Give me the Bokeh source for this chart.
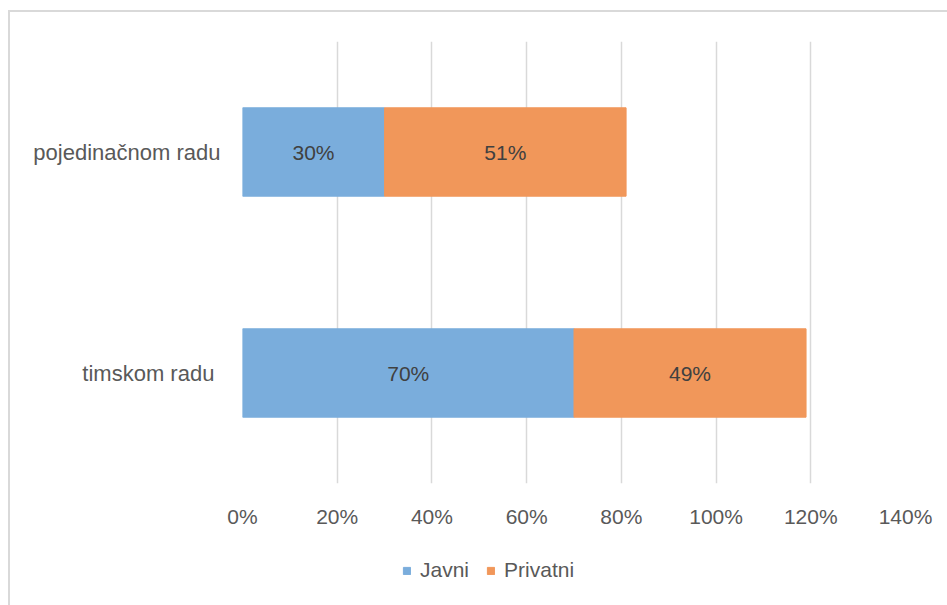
from bokeh.plotting import figure
from bokeh.models import (ColumnDataSource, FactorRange, Range1d, FixedTicker,
                          NumeralTickFormatter, Legend, LegendItem, LabelSet)
from bokeh.layouts import column
from bokeh.core.properties import value
from bokeh.embed import file_html
from bokeh.resources import INLINE

# ---- data ----
categories = ["timskom radu ", "pojedinačnom radu"]   # bottom -> top
javni = [0.70, 0.30]
privatni = [0.49, 0.51]
series_names = ["Javni", "Privatni"]
x_ticks = [0.0, 0.2, 0.4, 0.6, 0.8, 1.0, 1.2, 1.4]

BLUE = "#7AADDC"
ORANGE = "#F1975A"
FONT = "Liberation Sans"
TXT = "#595959"

src = ColumnDataSource(dict(
    cat=categories,
    javni=javni,
    privatni=privatni,
    j_end=javni,
    p_end=[a + b for a, b in zip(javni, privatni)],
    j_mid=[a / 2 for a in javni],
    p_mid=[a + b / 2 for a, b in zip(javni, privatni)],
    j_lab=[f"{round(v*100)}%" for v in javni],
    p_lab=[f"{round(v*100)}%" for v in privatni],
))

p = figure(width=937, height=528, output_backend="svg", toolbar_location=None,
           y_range=FactorRange(*categories), x_range=Range1d(0, 1.4),
           min_border_left=232, min_border_right=42, min_border_top=29,
           min_border_bottom=57)
p.outline_line_color = None

p.hbar(y="cat", left=0, right="j_end", height=0.4, color=BLUE, source=src)
p.hbar(y="cat", left="j_end", right="p_end", height=0.4, color=ORANGE, source=src)

for xcol, lcol in (("j_mid", "j_lab"), ("p_mid", "p_lab")):
    p.add_layout(LabelSet(x=xcol, y="cat", text=lcol, source=src,
                          text_align="center", text_baseline="middle",
                          text_font=value(FONT), text_font_size="21px",
                          text_color="#404040"))

p.xaxis.ticker = FixedTicker(ticks=x_ticks)
p.xaxis.formatter = NumeralTickFormatter(format="0%")
for ax in (p.xaxis[0], p.yaxis[0]):
    ax.axis_line_color = None
    ax.major_tick_line_color = None
    ax.minor_tick_line_color = None
    ax.major_label_text_font = FONT
    ax.major_label_text_color = TXT
p.xaxis.major_label_text_font_size = "21px"
p.yaxis.major_label_text_font_size = "22px"
p.xaxis.major_label_standoff = 15
p.yaxis.major_label_standoff = 16

p.xgrid.grid_line_color = "#d9d9d9"
p.xgrid.grid_line_width = 1.5
p.ygrid.grid_line_color = None

# legend strip below the chart (its frame is aligned with the chart's frame)
p2 = figure(width=937, height=65, output_backend="svg", toolbar_location=None,
            x_range=Range1d(0, 1.4), y_range=FactorRange(*categories),
            x_axis_type=None, y_axis_type=None,
            min_border=0, min_border_left=0, min_border_right=0,
            min_border_top=0, min_border_bottom=0)
p2.outline_line_color = None
p2.grid.visible = False
lr1 = p2.hbar(y="cat", left=0, right="j_end", height=0.4, color=BLUE,
              source=src, visible=False)
lr2 = p2.hbar(y="cat", left="j_end", right="p_end", height=0.4, color=ORANGE,
              source=src, visible=False)

legend = Legend(items=[LegendItem(label=series_names[0], renderers=[lr1]),
                       LegendItem(label=series_names[1], renderers=[lr2])],
                orientation="horizontal", location=(160, 23),
                label_text_font=FONT, label_text_font_size="21px",
                label_text_color=TXT, glyph_width=9, glyph_height=9,
                spacing=17, label_standoff=9, border_line_color=None,
                background_fill_alpha=0, margin=0, padding=0,
                inactive_fill_alpha=0, click_policy="none")
p2.add_layout(legend)

layout = column(p, p2, spacing=0, margin=(10, 0, 0, 8))
layout.styles = {"border-left": "2px solid #d9d9d9", "border-top": "2px solid #d9d9d9"}

open("out.html", "w").write(file_html(layout, INLINE))
